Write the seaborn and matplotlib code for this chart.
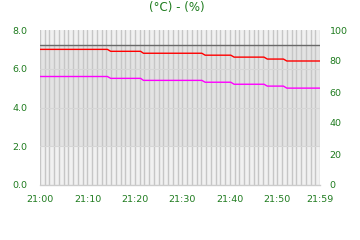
import matplotlib
matplotlib.use("Agg")
import matplotlib.pyplot as plt
import seaborn as sns
import pandas as pd

# ---- data ----
# minutes after 21:00
times = [0, 14.2, 14.9, 21.2, 21.8, 34.1, 34.8, 40.2, 40.9, 47.2, 47.9, 51.3, 52.0, 59]
temperature = [7.0, 7.0, 6.9, 6.9, 6.8, 6.8, 6.7, 6.7, 6.6, 6.6, 6.5, 6.5, 6.4, 6.4]
humidity = [70.0, 70.0, 68.8, 68.8, 67.5, 67.5, 66.3, 66.3, 65.0, 65.0, 63.8, 63.8, 62.5, 62.5]
limit_value = 7.25
band_low, band_high = 2.0, 7.25
x_tick_pos = [0, 10, 20, 30, 40, 50, 59]
x_tick_labels = ["21:00", "21:10", "21:20", "21:30", "21:40", "21:50", "21:59"]
left_ticks = [0, 2, 4, 6, 8]
left_labels = ["0.0", "2.0", "4.0", "6.0", "8.0"]
right_ticks = [0, 20, 40, 60, 80, 100]
title = "(°C) - (%)"

sns.set_theme(style="white")
plt.rcParams["font.family"] = ["DejaVu Sans"]

green = "#1e7b1e"
df_t = pd.DataFrame({"t": times, "v": temperature})
df_h = pd.DataFrame({"t": times, "v": humidity})

fig = plt.figure(figsize=(3.6, 2.4), dpi=100)
ax = fig.add_axes([40 / 360, 55 / 240, 280 / 360, 155 / 240])
ax.set_facecolor("#f1f1f1")
ax.axhspan(band_low, band_high, color="#e3e3e3", zorder=0, lw=0)
for m in range(0, 60):
    ax.axvline(m, color="#c6c6c6", lw=1.0, zorder=1)
for yv in [2, 4, 6]:
    ax.axhline(yv, color="#d6d6d6", lw=0.8, zorder=1)
ax.axhline(limit_value, color="#6a6a6a", lw=1.0, zorder=3)

sns.lineplot(data=df_t, x="t", y="v", ax=ax, color="#ff0000", lw=1.0, zorder=4)
ax.set_xlim(0, 59)
ax.set_ylim(0, 8)
ax.set_xticks(x_tick_pos)
ax.set_xticklabels(x_tick_labels)
ax.set_yticks(left_ticks)
ax.set_yticklabels(left_labels)
ax.set_xlabel("")
ax.set_ylabel("")
ax.tick_params(axis="both", length=0, labelsize=6.8, colors=green)
ax.tick_params(axis="y", pad=9)
ax.tick_params(axis="x", pad=7)
for s in ["top", "right", "left"]:
    ax.spines[s].set_visible(False)
ax.spines["bottom"].set_color("#cccccc")
ax.spines["bottom"].set_linewidth(1.0)

ax2 = ax.twinx()
sns.lineplot(data=df_h, x="t", y="v", ax=ax2, color="#ff00ff", lw=1.0, zorder=4)
ax2.set_ylim(0, 100)
ax2.set_yticks(right_ticks)
ax2.set_ylabel("")
ax2.tick_params(axis="y", length=0, labelsize=6.8, colors=green, pad=7)
for s in ax2.spines.values():
    s.set_visible(False)

fig.text(177 / 360, 1 - 7.5 / 240, title, ha="center", va="center", fontsize=8.5, color=green)
fig.savefig("out.png", dpi=100)
